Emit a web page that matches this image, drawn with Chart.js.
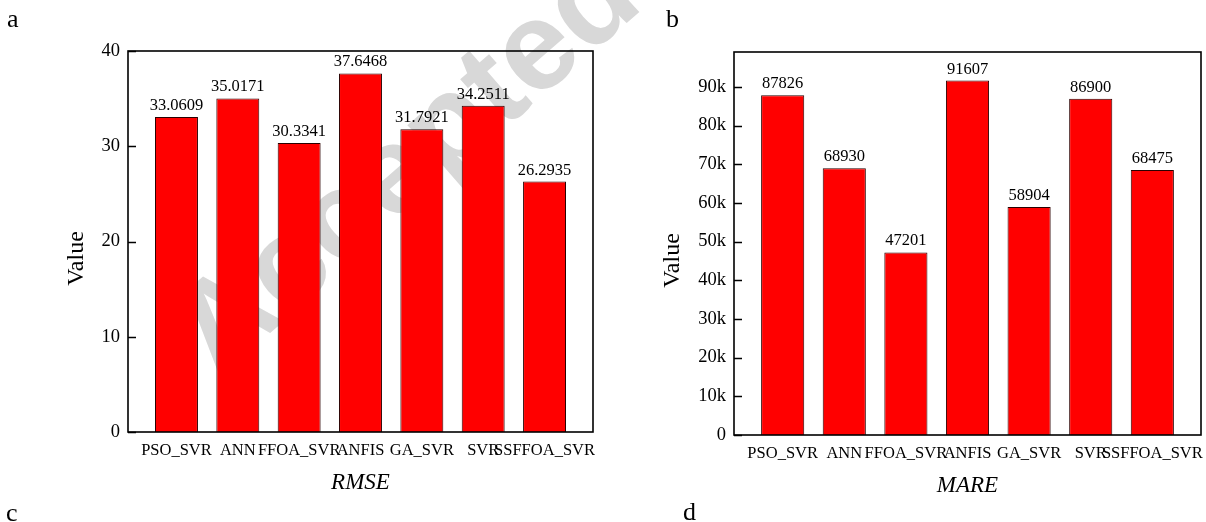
<!DOCTYPE html>
<html>
<head>
<meta charset="utf-8">
<script src="https://cdn.jsdelivr.net/npm/chart.js@4.4.1/dist/chart.umd.min.js"></script>
<style>
  body { margin: 0; background: #fff; }
  #page {
    position: relative; width: 1206px; height: 522px; overflow: hidden;
    font-family: "Liberation Serif", "Times New Roman", serif;
  }
  #stamp {
    position: absolute; left: 222px; top: 284px;
    font: bold 126px "Liberation Sans", Arial, sans-serif;
    line-height: 100px; color: #d8d8d8; white-space: nowrap;
    transform-origin: 0 100%; transform: rotate(-41deg);
  }
  .panel { position: absolute; font-size: 26px; line-height: 26px; color: #000; }
  .box { position: absolute; top: 0; width: 603px; height: 522px; }
</style>
</head>
<body>
<div id="page">
  <div id="stamp">Accepted</div>
  <div class="box" style="left:0"><canvas id="rmseChart"></canvas></div>
  <div class="box" style="left:603px"><canvas id="mareChart"></canvas></div>
  <div class="panel" style="left:7px;top:6px">a</div>
  <div class="panel" style="left:666px;top:6px">b</div>
  <div class="panel" style="left:6px;top:500px">c</div>
  <div class="panel" style="left:683px;top:499px">d</div>
</div>
<script>
// Model names and scores
const categories = ["PSO_SVR", "ANN", "FFOA_SVR", "ANFIS", "GA_SVR", "SVR", "SSFFOA_SVR"];
const rmseValues = [33.0609, 35.0171, 30.3341, 37.6468, 31.7921, 34.2511, 26.2935];
const mareValues = [87826, 68930, 47201, 91607, 58904, 86900, 68475];
const rmseTicks = [0, 10, 20, 30, 40];
const mareTicks = [0, 10000, 20000, 30000, 40000, 50000, 60000, 70000, 80000, 90000];

const serif = "'Liberation Serif', 'Times New Roman', serif";

// frame, inward y ticks, value labels and axis titles
const framePlugin = {
  id: "frame",
  afterDatasetsDraw(chart, args, opts) {
    const { ctx, chartArea: a } = chart;
    const y = chart.scales.y;
    ctx.save();
    ctx.strokeStyle = "#000";
    ctx.lineWidth = 1.6;
    ctx.strokeRect(a.left, a.top, a.right - a.left, a.bottom - a.top);
    ctx.beginPath();
    y.ticks.forEach(t => {
      const py = Math.round(y.getPixelForValue(t.value)) + 0.5;
      ctx.moveTo(a.left, py);
      ctx.lineTo(a.left + 8, py);
    });
    ctx.stroke();

    ctx.fillStyle = "#000";
    ctx.textAlign = "center";
    ctx.textBaseline = "alphabetic";
    ctx.font = "16.5px " + serif;
    chart.getDatasetMeta(0).data.forEach((bar, i) => {
      ctx.fillText(opts.format(chart.data.datasets[0].data[i].y), bar.x, bar.y - 7);
    });

    ctx.font = "italic 23px " + serif;
    ctx.textBaseline = "middle";
    ctx.fillText(opts.xTitle, (a.left + a.right) / 2, a.bottom + 51);

    ctx.font = "24px " + serif;
    ctx.translate(opts.yTitleX, (a.top + a.bottom) / 2 + 17);
    ctx.rotate(-Math.PI / 2);
    ctx.fillText("Value", 0, 0);
    ctx.restore();
  }
};

function makeChart(id, values, tickValues, yMax, format, tickFormat, xTitle, geo) {
  new Chart(document.getElementById(id), {
    type: "bar",
    data: {
      datasets: [{
        data: values.map((v, i) => ({ x: i, y: v })),
        backgroundColor: "#ff0000",
        borderColor: "#2a0000",
        borderWidth: 1,
        barPercentage: 0.7,
        categoryPercentage: 1
      }]
    },
    options: {
      responsive: false,
      animation: false,
      events: [],
      layout: { padding: { top: geo.top, right: geo.right, left: 0, bottom: 0 } },
      plugins: {
        legend: { display: false },
        tooltip: { enabled: false },
        frame: { format: format, xTitle: xTitle, yTitleX: geo.yTitleX }
      },
      scales: {
        x: {
          type: "linear",
          offset: false,
          min: -0.79,
          max: categories.length - 1 + 0.79,
          grid: { display: false, offset: false },
          border: { display: false },
          afterBuildTicks: s => { s.ticks = categories.map((c, i) => ({ value: i })); },
          afterFit: s => { s.height = geo.xHeight; s.paddingLeft = 0; s.paddingRight = 0; },
          ticks: {
            autoSkip: false, maxRotation: 0, minRotation: 0, padding: 1,
            color: "#000", font: { family: serif, size: 16.5 },
            callback: v => categories[v]
          }
        },
        y: {
          min: 0,
          max: yMax,
          grid: { display: false, drawTicks: false },
          border: { display: false },
          afterBuildTicks: s => { s.ticks = tickValues.map(v => ({ value: v })); },
          afterFit: s => { s.width = geo.yWidth; },
          ticks: {
            padding: 8, color: "#000", font: { family: serif, size: 18.5 },
            callback: tickFormat
          }
        }
      }
    },
    plugins: [framePlugin]
  });
}

function sizeCanvas(id) {
  const c = document.getElementById(id);
  c.width = 603; c.height = 522;
  c.style.width = "603px"; c.style.height = "522px";
}
sizeCanvas("rmseChart");
sizeCanvas("mareChart");

makeChart("rmseChart", rmseValues, rmseTicks, 40,
  v => v.toFixed(4), v => String(v), "RMSE",
  { top: 51, right: 10, xHeight: 90, yWidth: 128, yTitleX: 77 });

makeChart("mareChart", mareValues, mareTicks, 99000,
  v => String(v), v => (v === 0 ? "0" : v / 1000 + "k"), "MARE",
  { top: 52, right: 5, xHeight: 87, yWidth: 131, yTitleX: 70 });
</script>
</body>
</html>
